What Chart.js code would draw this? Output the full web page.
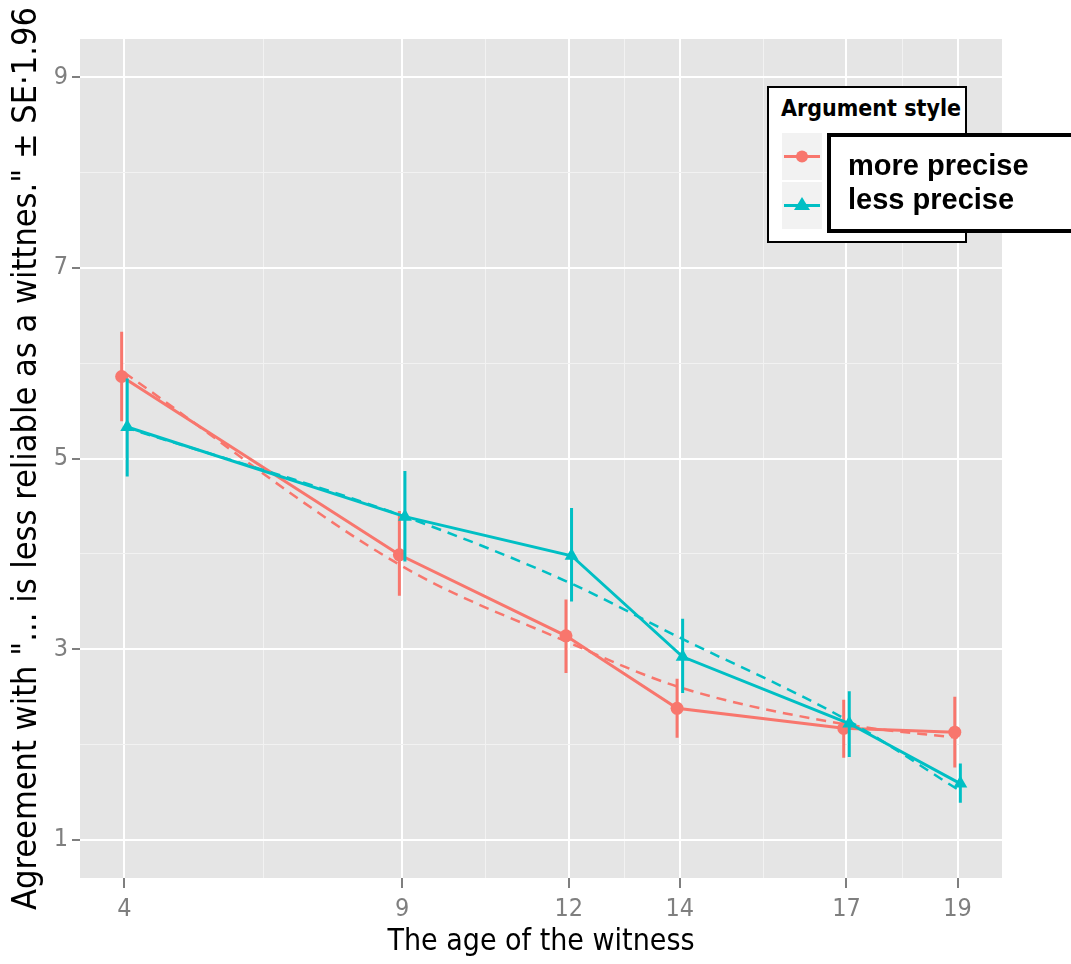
<!DOCTYPE html>
<html><head><meta charset="utf-8">
<script src="https://cdn.jsdelivr.net/npm/chart.js@4/dist/chart.umd.min.js"></script>
<style>
html,body{margin:0;padding:0;background:#fff;}
#wrap{position:relative;width:1071px;height:964px;overflow:hidden;}
#c{position:absolute;left:0;top:0;}
.lg{position:absolute;left:767px;top:86px;width:200px;height:157px;border:2px solid #000;background:#fff;box-sizing:border-box;}
.lgt{position:absolute;left:781px;top:95px;font:bold 23px "Liberation Sans Narrow","DejaVu Sans Condensed",sans-serif;color:#000;white-space:nowrap;}
.key{position:absolute;left:782px;width:40px;height:47px;background:#f2f2f2;}
.ov{position:absolute;left:827px;top:133px;width:300px;height:100px;border:4px solid #000;background:#fff;box-sizing:border-box;}
.ovt{position:absolute;left:848px;font:bold 29px "Liberation Sans",Arial,sans-serif;color:#000;white-space:nowrap;line-height:34px;}
</style>
</head><body>
<div id="wrap">
<canvas id="c" width="1071" height="964"></canvas>
<div class="lg"></div>
<div class="lgt">Argument style</div>
<div class="key" style="top:133px"><svg width="40" height="47"><line x1="2" y1="23.5" x2="38" y2="23.5" stroke="#F8766D" stroke-width="3"/><circle cx="20" cy="23.5" r="6" fill="#F8766D"/></svg></div>
<div class="key" style="top:182px"><svg width="40" height="47"><line x1="2" y1="23.5" x2="38" y2="23.5" stroke="#00BFC4" stroke-width="3"/><polygon points="20,15 28,28 12,28" fill="#00BFC4"/></svg></div>
<div class="ov"></div>
<div class="ovt" style="top:148px">more precise</div>
<div class="ovt" style="top:182px">less precise</div>
</div>
<script>
// ---- data ----
const xCats = [4, 9, 12, 14, 17, 19];
const xMinorTicks = [6.5, 10.5, 13, 15.5, 18];
const yMajorTicks = [1, 3, 5, 7, 9];
const yMinorTicks = [2, 4, 6, 8];
const seriesNames = ["more precise", "less precise"];
const moreMean = [5.86, 3.99, 3.14, 2.38, 2.17, 2.13];
const moreLow  = [5.39, 3.56, 2.75, 2.07, 1.86, 1.76];
const moreHigh = [6.33, 4.45, 3.52, 2.69, 2.47, 2.50];
const lessMean = [5.33, 4.39, 3.98, 2.92, 2.22, 1.59];
const lessLow  = [4.81, 3.92, 3.50, 2.54, 1.87, 1.39];
const lessHigh = [5.84, 4.87, 4.48, 3.32, 2.56, 1.80];
const moreFit  = [5.90, 3.87, 3.07, 2.60, 2.21, 2.07];
const lessFit  = [5.33, 4.40, 3.70, 3.12, 2.26, 1.53];
const xTitle = "The age of the witness";
const yTitle = 'Agreement with "... is less reliable as a wittnes." \u00B1 SE\u00B71.96';

const RED = "#F8766D", TEAL = "#00BFC4";
const dodge = 0.05;
const pts = (ys, d) => xCats.map((x, i) => ({x: x + d, y: ys[i]}));
const bars = (lo, hi, d) => xCats.flatMap((x, i) => [{x: x + d, y: lo[i]}, {x: x + d, y: hi[i]}, {x: x + d, y: null}]);

const panelBg = {
  id: 'panelBg',
  beforeDraw(chart) {
    const {ctx, chartArea: a} = chart;
    ctx.save(); ctx.fillStyle = '#e5e5e5';
    ctx.fillRect(a.left, a.top, a.right - a.left, a.bottom - a.top);
    ctx.restore();
  }
};
const narrow = '"Liberation Sans Narrow","DejaVu Sans Condensed",sans-serif';

new Chart(document.getElementById('c'), {
  type: 'line',
  data: {
    datasets: [
      {label: seriesNames[1] + ' bars', data: bars(lessLow, lessHigh, dodge), borderColor: TEAL, borderWidth: 3, pointRadius: 0, spanGaps: false, order: 3},
      {label: seriesNames[1], data: pts(lessMean, dodge), borderColor: TEAL, backgroundColor: TEAL, borderWidth: 3, pointStyle: 'triangle', pointRadius: 8, pointBorderWidth: 0, order: 1},
      {label: seriesNames[1] + ' fit', data: pts(lessFit, 0), borderColor: TEAL, borderWidth: 2.5, borderDash: [10, 7], pointRadius: 0, cubicInterpolationMode: 'monotone', order: 2},
      {label: seriesNames[0] + ' bars', data: bars(moreLow, moreHigh, -dodge), borderColor: RED, borderWidth: 3, pointRadius: 0, spanGaps: false, order: 6},
      {label: seriesNames[0], data: pts(moreMean, -dodge), borderColor: RED, backgroundColor: RED, borderWidth: 3, pointStyle: 'circle', pointRadius: 6.5, pointBorderWidth: 0, order: 4},
      {label: seriesNames[0] + ' fit', data: pts(moreFit, 0), borderColor: RED, borderWidth: 2.5, borderDash: [10, 7], pointRadius: 0, cubicInterpolationMode: 'monotone', order: 5}
    ]
  },
  options: {
    responsive: false, animation: false,
    layout: {padding: {left: 0, top: 39, right: 69, bottom: 0}},
    plugins: {legend: {display: false}, tooltip: {enabled: false}},
    scales: {
      x: {
        type: 'linear', min: 3.2, max: 19.8,
        afterBuildTicks: s => { s.ticks = [...xCats, ...xMinorTicks].sort((a, b) => a - b).map(v => ({value: v})); },
        afterFit: s => { s.height = 86; },
        border: {display: false},
        grid: {
          color: c => xCats.includes(c.tick.value) ? '#ffffff' : '#f2f2f2',
          lineWidth: c => xCats.includes(c.tick.value) ? 2 : 1,
          tickColor: c => xCats.includes(c.tick.value) ? '#7f7f7f' : 'rgba(0,0,0,0)',
          tickLength: 10, tickWidth: 2
        },
        ticks: {
          autoSkip: false, maxRotation: 0, padding: 6,
          color: '#7f7f7f', font: {family: narrow, size: 25},
          callback: v => xCats.includes(v) ? String(v) : ''
        },
        title: {display: true, text: xTitle, color: '#000', font: {family: narrow, size: 30, lineHeight: 1.2}, padding: {top: 0, bottom: 4}}
      },
      y: {
        type: 'linear', min: 0.6, max: 9.4,
        afterBuildTicks: s => { s.ticks = [...yMajorTicks, ...yMinorTicks].sort((a, b) => a - b).map(v => ({value: v})); },
        afterFit: s => { s.width = 80; },
        border: {display: false},
        grid: {
          color: c => yMajorTicks.includes(c.tick.value) ? '#ffffff' : '#f2f2f2',
          lineWidth: c => yMajorTicks.includes(c.tick.value) ? 2 : 1,
          tickColor: c => yMajorTicks.includes(c.tick.value) ? '#7f7f7f' : 'rgba(0,0,0,0)',
          tickLength: 8, tickWidth: 2
        },
        ticks: {
          autoSkip: false, padding: 4,
          color: '#7f7f7f', font: {family: narrow, size: 25},
          callback: v => yMajorTicks.includes(v) ? String(v) : ''
        },
        title: {display: true, text: yTitle, color: '#000', font: {family: narrow, size: 34, lineHeight: 1.2}, padding: {top: 7, bottom: 0}}
      }
    }
  },
  plugins: [panelBg]
});
</script>
</body></html>
